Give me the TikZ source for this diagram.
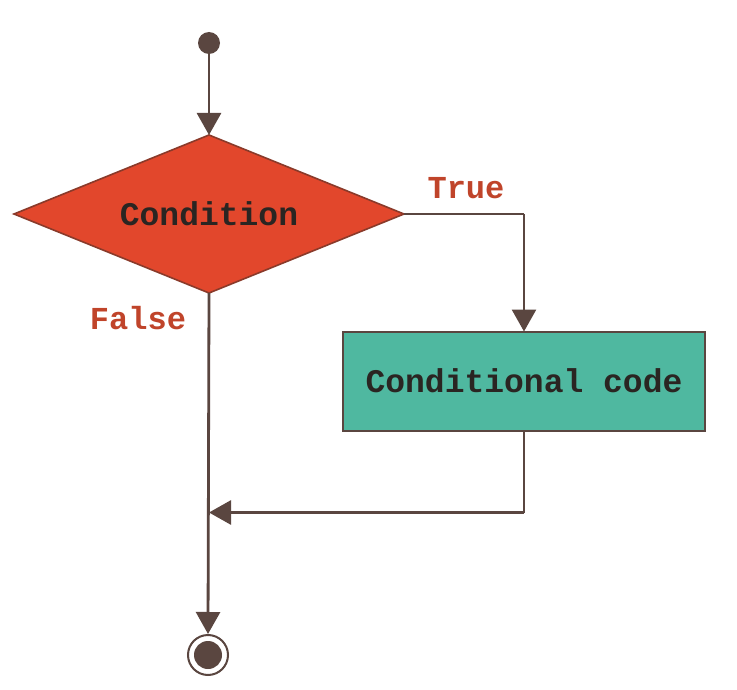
\documentclass[tikz,border=0pt]{standalone}
\usepackage{fontspec}
\setmonofont{Liberation Mono}
\usetikzlibrary{shapes.geometric,arrows.meta}
\definecolor{linec}{HTML}{5A4640}
\definecolor{redfill}{HTML}{E2472C}
\definecolor{redline}{HTML}{8A3A2A}
\definecolor{tealfill}{HTML}{4FB8A0}
\definecolor{labelc}{HTML}{C0442A}
\definecolor{textc}{HTML}{2A2522}
\tikzset{
  conn/.style={draw=linec, line width=2.8pt, -{Triangle[width=24pt,length=22pt]}},
  plain/.style={draw=linec, line width=2.8pt},
  decision/.style={diamond, aspect=2.47, fill=redfill, draw=redline, line width=1.6pt, minimum width=390pt, minimum height=158pt, inner sep=0pt, outer sep=0pt, font=\ttfamily\bfseries\fontsize{33}{36}\selectfont, text=textc},
  process/.style={rectangle, fill=tealfill, draw=linec, line width=2pt, minimum width=362pt, minimum height=99pt, inner sep=0pt, outer sep=0pt, font=\ttfamily\bfseries\fontsize{33}{36}\selectfont, text=textc},
  lab/.style={font=\ttfamily\bfseries\fontsize{32}{36}\selectfont, text=labelc, inner sep=0pt},
}
\begin{document}
\begin{tikzpicture}[x=1pt,y=-1pt]
\useasboundingbox (0,0) rectangle (737,690);
\fill[white] (0,0) rectangle (737,690);
\node[circle, fill=linec, minimum size=22pt, inner sep=0pt] (start) at (209,43) {};
\node[decision] (cond) at (209,214) {Condition};
\node[process] (code) at (524,381) {Conditional code};
\node[circle, draw=linec, line width=2pt, fill=white, minimum size=40pt, inner sep=0pt] (endo) at (208,655) {};
\node[circle, fill=linec, minimum size=28pt, inner sep=0pt] (endi) at (208,655) {};
\node[lab] (truel) at (466,188) {True};
\node[lab] (falsel) at (138,318) {False};
\coordinate (tcorner) at (code.north |- cond.east);
\coordinate (bcorner) at ([yshift=-82pt]code.south);
\coordinate (merge) at (cond.south |- bcorner);
\draw[conn] (start) -- (cond.north);
\draw[plain] (cond.east) -- (tcorner);
\draw[conn] (tcorner) -- (code.north);
\draw[plain] (code.south) -- (bcorner);
\draw[conn] (bcorner) -- (merge);
\draw[conn] (cond.south) -- (endo.north);
\end{tikzpicture}
\end{document}
